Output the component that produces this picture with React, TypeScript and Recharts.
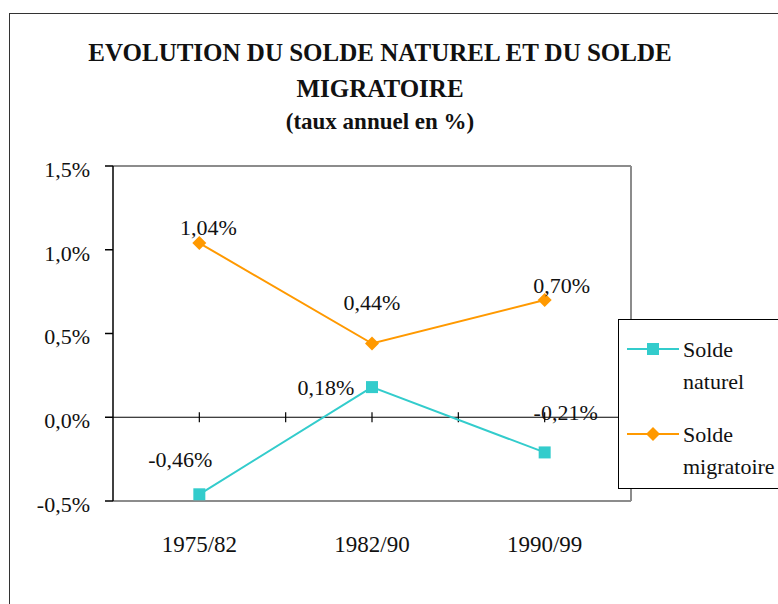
import React from 'react';
import { LineChart, Line, XAxis, YAxis, ReferenceLine, LabelList, Legend } from 'recharts';

const CATEGORIES = ['1975/82', '1982/90', '1990/99'];
const SOLDE_NATUREL = [-0.46, 0.18, -0.21];
const SOLDE_MIGRATOIRE = [1.04, 0.44, 0.7];
const Y_TICKS = [-0.5, 0, 0.5, 1, 1.5];
const X_MARKS = [0, 0.5, 1, 1.5, 2];

const TEAL = '#33CCCC';
const ORANGE = '#FF9900';
const FONT = '"Liberation Serif", "Times New Roman", serif';

// label offsets (px) per point, like Excel placed them
const NATUREL_LABEL_OFFSETS = [
  [-19, -35],
  [-46, 0],
  [21, -40],
];
const MIGRATOIRE_LABEL_OFFSETS = [
  [9, -16],
  [0, -41],
  [17, -15],
];

const data = CATEGORIES.map((name, i) => ({
  idx: i,
  name,
  naturel: SOLDE_NATUREL[i],
  migratoire: SOLDE_MIGRATOIRE[i],
}));

const fmtPct = (v: number, digits: number) => `${v.toFixed(digits).replace('.', ',')}%`;

const SquareDot = (props: any) => {
  const { cx, cy } = props;
  if (cx == null || cy == null) return null;
  return <rect x={cx - 6} y={cy - 6} width={12} height={12} fill={TEAL} />;
};

const DiamondDot = (props: any) => {
  const { cx, cy } = props;
  if (cx == null || cy == null) return null;
  const r = 7;
  return <polygon points={`${cx},${cy - r} ${cx + r},${cy} ${cx},${cy + r} ${cx - r},${cy}`} fill={ORANGE} />;
};

const makeLabel = (offsets: number[][]) => (props: any) => {
  const { x, y, value, index } = props;
  const [dx, dy] = offsets[index] || [0, 0];
  return (
    <text
      x={x + dx}
      y={y + dy}
      textAnchor="middle"
      dominantBaseline="central"
      fontFamily={FONT}
      fontSize={22}
      fill="#111"
    >
      {fmtPct(Number(value), 2)}
    </text>
  );
};

const LegendIcon = ({ color, shape }: { color: string; shape: 'square' | 'diamond' }) => (
  <svg width={52} height={16} style={{ display: 'block' }}>
    <line x1={0} y1={8} x2={52} y2={8} stroke={color} strokeWidth={2} />
    {shape === 'square' ? (
      <rect x={20} y={2} width={12} height={12} fill={color} />
    ) : (
      <polygon points="26,1 33,8 26,15 19,8" fill={color} />
    )}
  </svg>
);

const renderLegend = () => (
  <div
    style={{
      width: 200,
      height: 170,
      border: '1px solid #000',
      background: '#fff',
      boxSizing: 'border-box',
      fontFamily: FONT,
      fontSize: 22,
      color: '#111',
      position: 'relative',
    }}
  >
    {[
      { top: 14, color: TEAL, shape: 'square' as const, lines: ['Solde', 'naturel'] },
      { top: 99, color: ORANGE, shape: 'diamond' as const, lines: ['Solde', 'migratoire'] },
    ].map((e) => (
      <div key={e.lines[1]} style={{ position: 'absolute', left: 8, top: e.top, display: 'flex' }}>
        <div style={{ paddingTop: 7 }}>
          <LegendIcon color={e.color} shape={e.shape} />
        </div>
        <div style={{ marginLeft: 4, lineHeight: '32px', whiteSpace: 'nowrap' }}>
          {e.lines[0]}
          <br />
          {e.lines[1]}
        </div>
      </div>
    ))}
  </div>
);

export default function App() {
  return (
    <div
      style={{
        position: 'fixed',
        left: 0,
        top: 0,
        width: 778,
        height: 604,
        overflow: 'hidden',
        background: '#fff',
        fontFamily: FONT,
      }}
    >
      <div
        style={{
          position: 'absolute',
          left: 9,
          top: 13,
          width: 900,
          height: 700,
          border: '1.5px solid #333',
        }}
      />
      <div
        style={{
          position: 'absolute',
          left: 0,
          width: 760,
          top: 35,
          textAlign: 'center',
          fontWeight: 'bold',
          fontSize: 25,
          lineHeight: '36px',
          color: '#111',
        }}
      >
        EVOLUTION DU SOLDE NATUREL ET DU SOLDE
        <br />
        MIGRATOIRE
      </div>
      <div
        style={{
          position: 'absolute',
          left: 0,
          width: 760,
          top: 108,
          textAlign: 'center',
          fontWeight: 'bold',
          fontSize: 23,
          lineHeight: '28px',
          color: '#111',
        }}
      >
        (taux annuel en %)
      </div>
      <div style={{ position: 'absolute', left: 0, top: 0 }}>
        <LineChart
          width={778}
          height={604}
          data={data}
          margin={{ top: 166, right: 147, bottom: 63, left: 53 }}
        >
          <XAxis
            dataKey="idx"
            type="number"
            domain={[-0.5, 2.5]}
            ticks={[0, 1, 2]}
            tickFormatter={(v) => CATEGORIES[v] ?? ''}
            axisLine={false}
            tickLine={false}
            tickMargin={29}
            height={40}
            tick={{ fill: '#111', fontSize: 23, fontFamily: FONT }}
          />
          <YAxis
            type="number"
            domain={[-0.5, 1.5]}
            ticks={Y_TICKS}
            tickFormatter={(v) => fmtPct(Number(v), 1)}
            axisLine={{ stroke: '#000', strokeWidth: 1.5 }}
            tickLine={{ stroke: '#000', strokeWidth: 1.5 }}
            tickSize={8}
            tickMargin={15}
            width={60}
            allowDataOverflow
            tick={{ fill: '#111', fontSize: 22, fontFamily: FONT, dy: 3 }}
          />
          <ReferenceLine y={1.5} stroke="#8c8c8c" strokeWidth={2} />
          <ReferenceLine y={-0.5} stroke="#8c8c8c" strokeWidth={2} />
          <ReferenceLine x={2.5} stroke="#8c8c8c" strokeWidth={2} />
          <ReferenceLine y={0} stroke="#000" strokeWidth={1.2} />
          {X_MARKS.map((m) => (
            <ReferenceLine
              key={m}
              segment={[
                { x: m, y: -0.03 },
                { x: m, y: 0.03 },
              ]}
              stroke="#000"
              strokeWidth={1.2}
            />
          ))}
          <Line
            dataKey="naturel"
            name="Solde naturel"
            stroke={TEAL}
            strokeWidth={2}
            dot={<SquareDot />}
            activeDot={false}
            isAnimationActive={false}
          >
            <LabelList dataKey="naturel" content={makeLabel(NATUREL_LABEL_OFFSETS)} />
          </Line>
          <Line
            dataKey="migratoire"
            name="Solde migratoire"
            stroke={ORANGE}
            strokeWidth={2}
            dot={<DiamondDot />}
            activeDot={false}
            isAnimationActive={false}
          >
            <LabelList dataKey="migratoire" content={makeLabel(MIGRATOIRE_LABEL_OFFSETS)} />
          </Line>
          <Legend
            layout="vertical"
            align="center"
            verticalAlign="middle"
            content={renderLegend}
            wrapperStyle={{ left: 618, top: 319, width: 200, height: 170 }}
          />
        </LineChart>
      </div>
    </div>
  );
}
